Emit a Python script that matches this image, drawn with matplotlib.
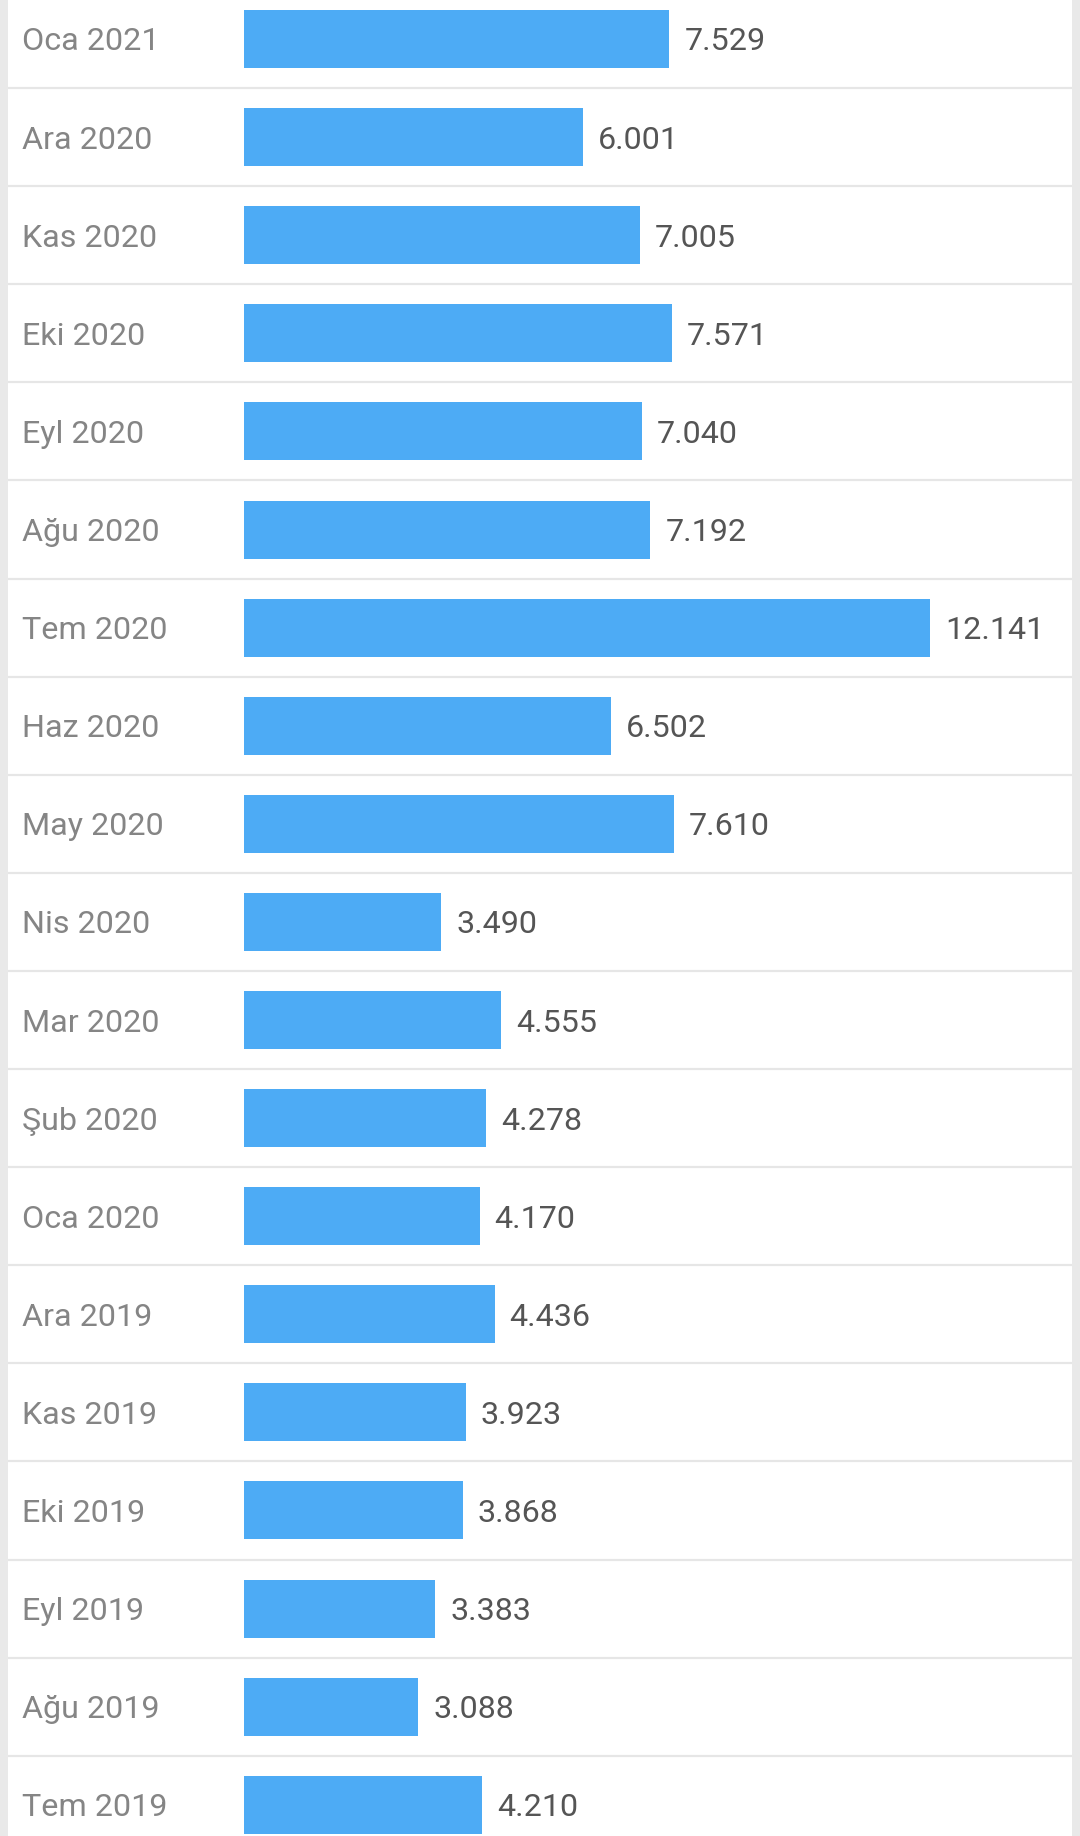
import matplotlib
matplotlib.use("Agg")
import matplotlib.pyplot as plt
from matplotlib.patches import Rectangle

# months (top to bottom) and values
months = ["Oca 2021", "Ara 2020", "Kas 2020", "Eki 2020", "Eyl 2020", "Ağu 2020",
          "Tem 2020", "Haz 2020", "May 2020", "Nis 2020", "Mar 2020", "Şub 2020",
          "Oca 2020", "Ara 2019", "Kas 2019", "Eki 2019", "Eyl 2019", "Ağu 2019",
          "Tem 2019"]
values = [7.529, 6.001, 7.005, 7.571, 7.040, 7.192, 12.141, 6.502, 7.610, 3.490,
          4.555, 4.278, 4.170, 4.436, 3.923, 3.868, 3.383, 3.088, 4.210]
value_labels = ["7.529", "6.001", "7.005", "7.571", "7.040", "7.192", "12.141",
                "6.502", "7.610", "3.490", "4.555", "4.278", "4.170", "4.436",
                "3.923", "3.868", "3.383", "3.088", "4.210"]

plt.rcParams['font.family'] = ['Roboto', 'DejaVu Sans']

W, H = 1080, 1836
fig = plt.figure(figsize=(W / 100, H / 100), dpi=100)
ax = fig.add_axes([0, 0, 1, 1])

# pixel layout
x0_px = 244.0      # where the bars start
px_per_unit = 56.5
row_px = 98.1
first_center_px = 39.0

ax.set_xlim(-x0_px / px_per_unit, (W - x0_px) / px_per_unit)
ax.set_ylim((H - first_center_px) / row_px, -first_center_px / row_px)
ax.axis("off")

ys = list(range(len(months)))
ax.barh(ys, values, height=58 / row_px, color="#4dabf5", zorder=2)

label_x = -(x0_px - 22) / px_per_unit
dy = 3 / row_px
for y, m, v, t in zip(ys, months, values, value_labels):
    ax.text(label_x, y + dy, m, fontsize=23.2, color="#858585",
            va="center", ha="left")
    ax.text(v + 15 / px_per_unit, y + dy, t, fontsize=23.2,
            color="#555555", va="center", ha="left")

# row separators
for y in ys[:-1]:
    ax.axhline(y + 0.5, xmin=8 / W, xmax=1072 / W, color="#e6e6e6", lw=1.6, zorder=1)

# card edges
ax.add_patch(Rectangle((0, 0), 8 / W, 1, transform=ax.transAxes,
                       color="#e9e9e9", lw=0, zorder=3))
ax.add_patch(Rectangle((1072 / W, 0), 8 / W, 1, transform=ax.transAxes,
                       color="#e9e9e9", lw=0, zorder=3))

fig.savefig("out.png", dpi=100, facecolor="white")
